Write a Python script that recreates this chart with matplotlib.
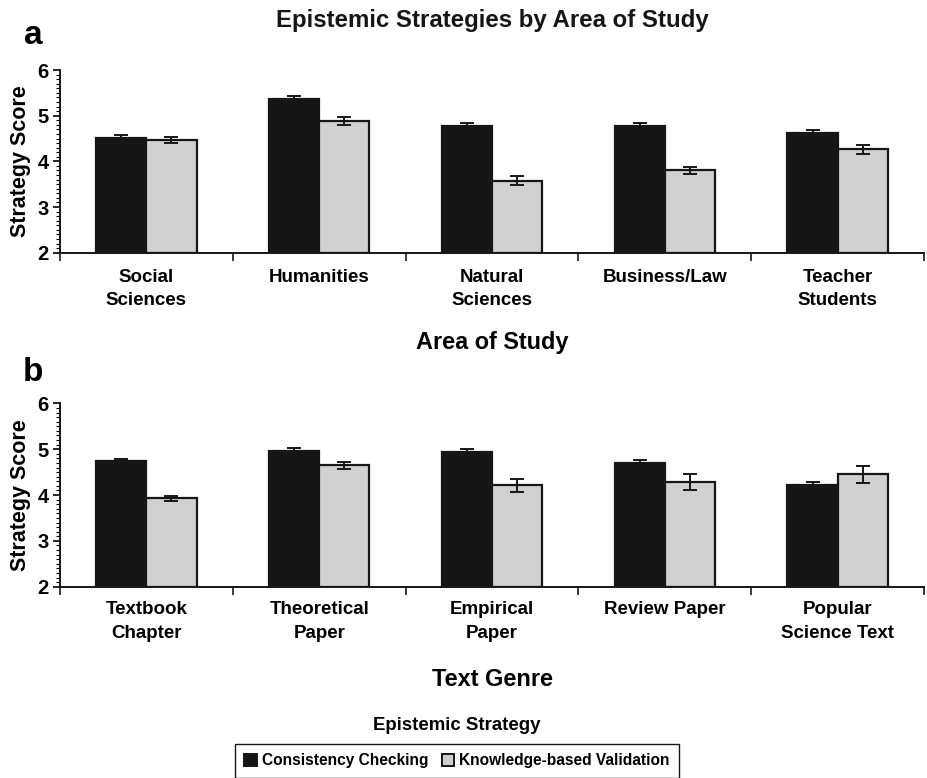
import numpy as np
import matplotlib
matplotlib.use('Agg')
import matplotlib.pyplot as plt
from matplotlib.ticker import MultipleLocator
from matplotlib.patches import Patch

plt.rcParams['font.family'] = ['Liberation Sans', 'DejaVu Sans']
plt.rcParams['font.weight'] = 'bold'

# panel a: area of study
areas = ['Social\nSciences', 'Humanities', 'Natural\nSciences', 'Business/Law', 'Teacher\nStudents']
area_cc = [4.52, 5.36, 4.78, 4.77, 4.62]
area_cc_err = [0.05, 0.06, 0.07, 0.06, 0.06]
area_kv = [4.47, 4.88, 3.58, 3.80, 4.26]
area_kv_err = [0.07, 0.09, 0.09, 0.08, 0.09]

# panel b: text genre
genres = ['Textbook\nChapter', 'Theoretical\nPaper', 'Empirical\nPaper', 'Review Paper', 'Popular\nScience Text']
genre_cc = [4.75, 4.96, 4.94, 4.71, 4.22]
genre_cc_err = [0.04, 0.06, 0.07, 0.06, 0.07]
genre_kv = [3.93, 4.65, 4.21, 4.28, 4.45]
genre_kv_err = [0.06, 0.08, 0.15, 0.18, 0.18]

series_names = ['Consistency Checking', 'Knowledge-based Validation']
colors = ['#161616', '#d0d0d0']

W, H = 927, 778
fig = plt.figure(figsize=(W / 100, H / 100), dpi=100)


def panel(rect, cats, cc, cc_err, kv, kv_err, lsp, pad):
    ax = fig.add_axes(rect)
    x = np.arange(len(cats))
    bw = 0.29
    for off, vals, errs, col in [(-bw / 2, cc, cc_err, colors[0]), (bw / 2, kv, kv_err, colors[1])]:
        ax.bar(x + off, np.array(vals) - 2, bw, bottom=2, color=col, edgecolor='#161616',
               linewidth=1.6, zorder=2)
        ax.errorbar(x + off, vals, yerr=errs, fmt='none', ecolor='#161616',
                    elinewidth=1.4, capsize=5, capthick=1.4, zorder=3)
    ax.set_xlim(-0.5, len(cats) - 0.5)
    ax.set_ylim(2, 6)
    ax.set_yticks([2, 3, 4, 5, 6])
    ax.yaxis.set_minor_locator(MultipleLocator(0.1))
    ax.set_xticks(x)
    ax.set_xticklabels(cats, fontsize=13.5, fontweight='bold', linespacing=lsp)
    ax.set_xticks(np.arange(-0.5, len(cats)), minor=True)
    ax.tick_params(axis='x', which='major', length=0, pad=pad)
    ax.tick_params(axis='x', which='minor', length=6, width=1.2, color='#161616')
    ax.tick_params(axis='y', which='major', length=5, width=1.2, labelsize=14.5, pad=3)
    ax.tick_params(axis='y', which='minor', length=3, width=0.8)
    for lab in ax.get_yticklabels():
        lab.set_fontweight('bold')
    for s in ['top', 'right']:
        ax.spines[s].set_visible(False)
    for s in ['left', 'bottom']:
        ax.spines[s].set_linewidth(1.4)
        ax.spines[s].set_color('#161616')
    ax.set_ylabel('Strategy Score', fontsize=15.5, fontweight='bold')
    ax.yaxis.set_label_coords(-0.034, 0.5)
    return ax


ax_a = panel([60 / W, 1 - 252.7 / H, 864 / W, 182.7 / H], areas, area_cc, area_cc_err,
             area_kv, area_kv_err, 1.45, 12)
ax_b = panel([60 / W, 1 - 586.7 / H, 864 / W, 183.3 / H], genres, genre_cc, genre_cc_err,
             genre_kv, genre_kv_err, 1.55, 10)

fig.text(492 / W, 1 - 20 / H, 'Epistemic Strategies by Area of Study', ha='center', va='center',
         fontsize=17.3, fontweight='bold', color='#161616')
fig.text(33 / W, 1 - 36 / H, 'a', ha='center', va='center', fontsize=24, fontweight='bold')
fig.text(492 / W, 1 - 343 / H, 'Area of Study', ha='center', va='center', fontsize=16.9, fontweight='bold')
fig.text(33 / W, 1 - 372 / H, 'b', ha='center', va='center', fontsize=24, fontweight='bold')
fig.text(492 / W, 1 - 679 / H, 'Text Genre', ha='center', va='center', fontsize=16.9, fontweight='bold')
fig.text(457 / W, 1 - 725 / H, 'Epistemic Strategy', ha='center', va='center', fontsize=13.4, fontweight='bold')

handles = [Patch(facecolor=c, edgecolor='#161616', linewidth=1.4) for c in colors]
fig.legend(handles, series_names, loc='upper center', bbox_to_anchor=(457 / W, 1 - 744 / H),
           ncol=2, frameon=True, fancybox=False, edgecolor='#161616', framealpha=1,
           prop={'size': 11.2, 'weight': 'bold'}, handlelength=0.8, handleheight=0.9,
           handletextpad=0.3, columnspacing=0.9, borderpad=0.6, borderaxespad=0)

fig.savefig('out.png', dpi=100)
